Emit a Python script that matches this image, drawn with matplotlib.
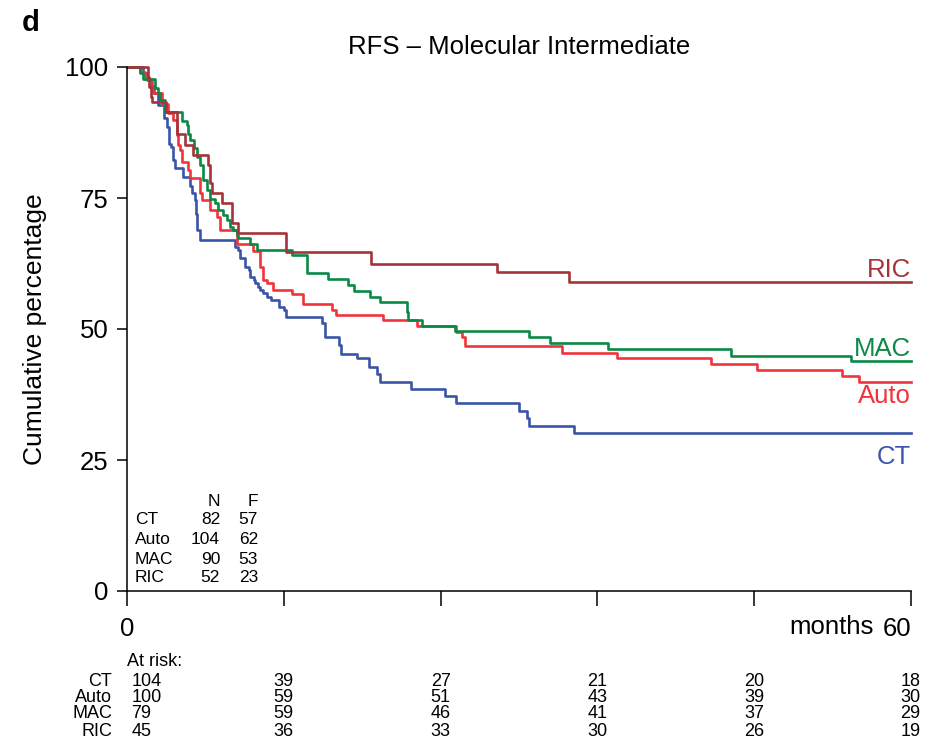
from matplotlib import pyplot as plt
from matplotlib import transforms

# Kaplan-Meier steps (months, cumulative percentage after each drop)
ct_t = [0, 1.2, 1.5, 1.8, 2.1, 2.4, 2.8, 3.05, 3.2, 3.4, 3.55, 3.7, 4.3, 4.8, 4.95, 5.2, 5.3, 5.35, 5.6,
        8.25, 8.5, 8.65, 9.05, 9.3, 9.4, 9.7, 9.8, 10.05, 10.2, 10.4, 10.7, 11.0, 11.6, 12.0, 12.2,
        14.9, 15.15, 16.2, 16.35, 17.6, 18.5, 19.1, 19.4, 21.7, 24.3, 25.2, 30.0, 30.6, 30.8, 34.2]
ct_s = [100, 98.8, 97.6, 96.3, 95.1, 92.7, 90.2, 88.6, 85.4, 84.8, 82.3, 80.7, 79.1, 77.2, 75.9, 74.6, 72.0, 68.9, 67.0,
        65.7, 65.1, 63.5, 61.9, 61.3, 60.0, 59.4, 58.7, 58.1, 57.4, 56.8, 56.1, 55.5, 54.2, 53.6, 52.3,
        51.1, 48.5, 46.9, 45.3, 44.4, 42.8, 41.5, 39.9, 38.5, 37.3, 35.8, 34.4, 33.0, 31.4, 30.1]

auto_t = [0, 1.0, 1.38, 1.89, 2.0, 2.65, 3.16, 3.54, 3.8, 3.93, 4.06, 4.19, 4.69, 4.82, 5.59, 5.72, 6.35, 6.86,
          7.12, 8.39, 9.67, 10.18, 10.43, 10.69, 11.2, 12.6, 13.5, 15.7, 16.0, 19.6, 22.2, 25.2, 25.6, 25.9,
          33.3, 37.5, 44.7, 48.2, 54.7, 56.0]
auto_s = [100, 99.1, 97.8, 96.2, 95.0, 93.0, 91.2, 89.9, 87.0, 85.1, 84.2, 81.9, 80.3, 78.8, 75.9, 74.6, 72.7, 71.4,
          68.9, 66.3, 64.8, 61.9, 59.4, 58.7, 57.4, 56.7, 54.8, 53.7, 52.7, 51.7, 50.6, 49.5, 48.5, 46.8,
          45.5, 44.4, 43.4, 42.2, 41.0, 39.8]

mac_t = [0, 1.0, 1.25, 2.14, 2.4, 2.53, 2.91, 4.19, 4.57, 4.69, 4.82, 5.1, 5.33, 5.59, 5.84, 6.1, 6.35, 6.73,
         6.99, 7.37, 7.63, 7.88, 8.13, 8.39, 8.52, 9.41, 9.92, 12.6, 13.75, 15.4, 16.9, 17.4, 18.6, 19.4,
         21.4, 21.5, 22.6, 25.1, 30.8, 32.4, 36.8, 46.2, 55.4]
mac_s = [100, 98.8, 97.8, 95.9, 95.0, 93.7, 91.5, 89.6, 88.9, 87.3, 86.1, 84.5, 82.9, 81.3, 78.4, 76.5, 74.9, 74.0,
         72.7, 71.8, 70.8, 69.5, 68.9, 67.9, 67.3, 66.3, 65.1, 64.1, 60.6, 59.5, 58.4, 57.3, 56.2, 55.2,
         53.3, 51.8, 50.6, 49.7, 48.5, 47.4, 46.2, 44.9, 43.8]

ric_t = [0, 1.63, 1.7, 1.8, 1.89, 2.95, 3.8, 4.44, 5.07, 6.22, 6.35, 6.48, 7.25, 8.01, 8.5, 12.2, 18.7, 28.3, 33.8]
ric_s = [100, 98.1, 96.2, 94.2, 93.4, 91.5, 87.3, 85.1, 83.2, 81.3, 77.8, 75.9, 74.0, 70.2, 68.3, 64.6, 62.5, 60.8, 58.9]

groups = ['CT', 'Auto', 'MAC', 'RIC']
n_total = [82, 104, 90, 52]
n_fail = [57, 62, 53, 23]

risk_times = [0, 12, 24, 36, 48, 60]
at_risk = {
    'CT': [104, 39, 27, 21, 20, 18],
    'Auto': [100, 59, 51, 43, 39, 30],
    'MAC': [79, 59, 46, 41, 37, 29],
    'RIC': [45, 36, 33, 30, 26, 19],
}

colors = {'CT': '#3a55a8', 'Auto': '#f0343a', 'MAC': '#0a8a45', 'RIC': '#a4343a'}

plt.rcParams['font.family'] = ['Liberation Sans', 'DejaVu Sans']

fig = plt.figure(figsize=(9.4, 7.49), dpi=100)
ax = fig.add_axes([127 / 940, 1 - 591 / 749, 784 / 940, 524 / 749])

curves = [('CT', ct_t, ct_s), ('Auto', auto_t, auto_s), ('MAC', mac_t, mac_s), ('RIC', ric_t, ric_s)]
for name, t, s in curves:
    ax.step(t + [60], s + [s[-1]], where='post', color=colors[name], linewidth=1.9, clip_on=False)

ax.set_xlim(0, 60)
ax.set_ylim(0, 100)
ax.spines['top'].set_visible(False)
ax.spines['right'].set_visible(False)
for sp in ['left', 'bottom']:
    ax.spines[sp].set_linewidth(1.1)

ax.set_yticks([0, 25, 50, 75, 100])
ax.set_xticks(risk_times)
ax.set_xticklabels(['0', '', '', '', '', '60'])
ax.get_xticklabels()[-1].set_horizontalalignment('right')
ax.tick_params(axis='y', length=7.5, width=1.1, pad=6, labelsize=18.5)
ax.tick_params(axis='x', length=11, width=1.1, pad=8, labelsize=18.5)

ax.set_ylabel('Cumulative percentage', fontsize=19)
ax.yaxis.set_label_coords(-0.102, 0.5)
ax.text(0.952, -0.069, 'months', transform=ax.transAxes, ha='right', va='center', fontsize=18.5)

ax.set_title('RFS \u2013 Molecular Intermediate', fontsize=18.5, pad=9)
fig.text(22 / 940, 1 - 23 / 749, 'd', fontsize=21, fontweight='bold', ha='left', va='center')

# labels at curve ends
end_y = {'RIC': 270, 'MAC': 349, 'Auto': 396, 'CT': 457}
for name in groups:
    ax.text(1.0, (591 - end_y[name]) / 524, name, transform=ax.transAxes, ha='right', va='center',
            fontsize=18.5, color=colors[name])

# N / F table inside the axes
tbl_y = [520, 539, 559, 578]
ax.text((220 - 127) / 784, (591 - 501) / 524, 'N', transform=ax.transAxes, ha='right', va='center', fontsize=12.5)
ax.text((258 - 127) / 784, (591 - 501) / 524, 'F', transform=ax.transAxes, ha='right', va='center', fontsize=12.5)
for i, name in enumerate(groups):
    yy = (591 - tbl_y[i]) / 524
    ax.text((135 - 127) / 784, yy, name, transform=ax.transAxes, ha='left', va='center', fontsize=12.5)
    ax.text((220 - 127) / 784, yy, str(n_total[i]), transform=ax.transAxes, ha='right', va='center', fontsize=12.5)
    ax.text((258 - 127) / 784, yy, str(n_fail[i]), transform=ax.transAxes, ha='right', va='center', fontsize=12.5)

# numbers at risk under the plot
trans = transforms.blended_transform_factory(ax.transData, fig.transFigure)
fig.text(127 / 940, 1 - 662 / 749, 'At risk:', ha='left', va='center', fontsize=13)
risk_y = [681, 697, 714, 731]
for i, name in enumerate(groups):
    yy = 1 - risk_y[i] / 749
    fig.text(112 / 940, yy, name, ha='right', va='center', fontsize=13)
    for j, tm in enumerate(risk_times):
        if j == 0:
            ha = 'left'
            tr = transforms.offset_copy(trans, fig=fig, x=3, y=0, units='points')
        elif j == len(risk_times) - 1:
            ha = 'right'
            tr = transforms.offset_copy(trans, fig=fig, x=7, y=0, units='points')
        else:
            ha = 'center'
            tr = trans
        fig.text(tm, yy, str(at_risk[name][j]), transform=tr, ha=ha, va='center', fontsize=13)

fig.savefig('out.png', dpi=100)
